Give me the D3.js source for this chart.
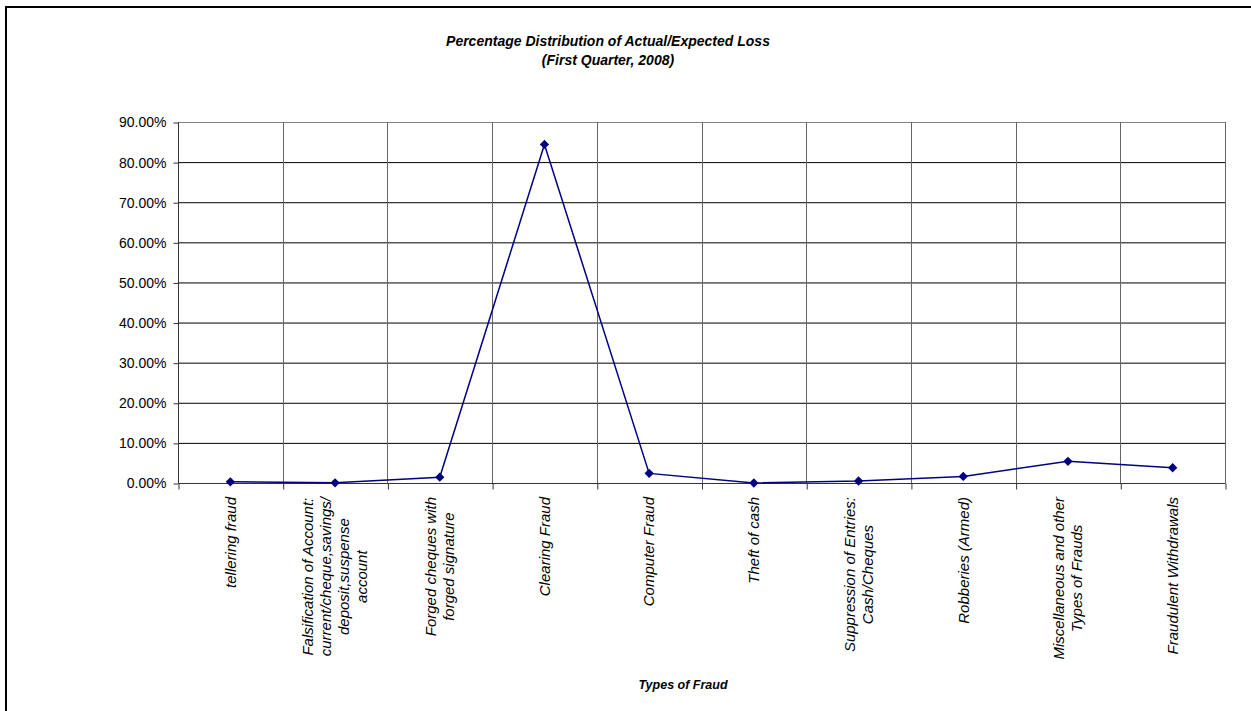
<!DOCTYPE html>
<html>
<head>
<meta charset="utf-8">
<script src="https://cdn.jsdelivr.net/npm/d3@7"></script>
<style>
  body { margin: 0; background: #fff; }
  svg { display: block; font-family: "Liberation Sans", Arial, sans-serif; }
</style>
</head>
<body>
<div id="chart"></div>
<script>
// fraud types (line breaks as in the original chart)
const categories = [
    "tellering fraud",
    "Falsification of Account:\ncurrent/cheque,savings/\ndeposit,suspense\naccount",
    "Forged cheques with\nforged signature",
    "Clearing Fraud",
    "Computer Fraud",
    "Theft of cash",
    "Suppression of Entries:\nCash/Cheques",
    "Robberies (Armed)",
    "Miscellaneous and other\nTypes of Frauds",
    "Fraudulent Withdrawals"
];

// share of actual/expected loss, in percent
const lossShare = [0.3, 0.05, 1.45, 84.4, 2.4, 0.0, 0.5, 1.65, 5.4, 3.8];

const yTicks = [0, 10, 20, 30, 40, 50, 60, 70, 80, 90];

const titleLines = ["Percentage Distribution of Actual/Expected Loss", "(First Quarter, 2008)"];
const xTitle = "Types of Fraud";

let width = 1251,
    height = 711,
    plot = {left: 178, right: 1225, top: 122, bottom: 483};

let svg = d3.select("#chart").append("svg")
    .attr("width", width)
    .attr("height", height);

// chart area border
svg.append("rect")
    .attr("x", 6)
    .attr("y", 7)
    .attr("width", width + 20)
    .attr("height", height + 20)
    .attr("fill", "white")
    .attr("stroke", "black")
    .attr("stroke-width", 2);

let x = d3.scaleBand()
    .domain(d3.range(categories.length))
    .range([plot.left, plot.right])
    .padding(0);

let y = d3.scaleLinear()
    .domain([0, 90])
    .range([plot.bottom, plot.top]);

// horizontal gridlines
svg.append("g")
    .selectAll("line")
    .data(yTicks.slice(1))
    .enter().append("line")
    .attr("x1", plot.left)
    .attr("x2", plot.right)
    .attr("y1", d => y(d) + 0.5)
    .attr("y2", d => y(d) + 0.5)
    .attr("stroke", d => d === 90 ? "#808080" : "black")
    .attr("stroke-width", 1);

// vertical gridlines at category boundaries
svg.append("g")
    .selectAll("line")
    .data(d3.range(1, categories.length + 1))
    .enter().append("line")
    .attr("x1", i => Math.round(x(0) + i * x.bandwidth()) + 0.5)
    .attr("x2", i => Math.round(x(0) + i * x.bandwidth()) + 0.5)
    .attr("y1", plot.top)
    .attr("y2", plot.bottom)
    .attr("stroke", "#666")
    .attr("stroke-width", 1);

// y axis
let yAxis = d3.axisLeft(y)
    .tickValues(yTicks)
    .tickSize(5)
    .tickPadding(7)
    .tickFormat(d => d3.format(".2f")(d) + "%");

let yG = svg.append("g")
    .attr("transform", "translate(" + (plot.left + 0.5) + ",0.5)")
    .call(yAxis);
yG.select(".domain").attr("stroke", "#333").attr("d", "M0," + plot.top + "V" + plot.bottom);
yG.selectAll(".tick line").attr("stroke", "#333");
yG.selectAll(".tick text")
    .attr("font-size", 14)
    .attr("fill", "black")
    .attr("font-family", "Liberation Sans, Arial, sans-serif");

// x axis: ticks at band edges
let edgeScale = d3.scaleLinear().domain([0, categories.length]).range([plot.left, plot.right]);
let xAxis = d3.axisBottom(edgeScale)
    .tickValues(d3.range(0, categories.length + 1))
    .tickSize(6)
    .tickFormat("");

let xG = svg.append("g")
    .attr("transform", "translate(0.5," + (plot.bottom + 0.5) + ")")
    .call(xAxis);
xG.select(".domain").attr("stroke", "#333").attr("d", "M" + plot.left + ",0H" + plot.right);
xG.selectAll(".tick line").attr("stroke", "#333");

// category labels, rotated, lines centred on each other
let labelTop = 497;
let lineH = 18;
categories.forEach((c, i) => {
    let lines = c.split("\n");
    let g = svg.append("g")
        .attr("transform", "translate(" + (x(i) + x.bandwidth() / 2) + "," + labelTop + ")rotate(-90)");
    let t = g.append("text")
        .attr("font-size", 15)
        .attr("font-style", "italic")
        .attr("text-anchor", "middle")
        .attr("fill", "black");
    lines.forEach((l, j) => {
        t.append("tspan")
            .attr("x", 0)
            .attr("y", (j - (lines.length - 1) / 2) * lineH)
            .attr("dy", "0.35em")
            .text(l);
    });
    let maxW = d3.max(t.selectAll("tspan").nodes(), n => n.getComputedTextLength());
    t.selectAll("tspan").attr("x", -maxW / 2);
});

// line and markers
let line = d3.line()
    .x((d, i) => x(i) + x.bandwidth() / 2)
    .y(d => y(d));

svg.append("path")
    .datum(lossShare)
    .attr("d", line)
    .attr("fill", "none")
    .attr("stroke", "#000080")
    .attr("stroke-width", 1.5);

svg.append("g")
    .selectAll("path")
    .data(lossShare)
    .enter().append("path")
    .attr("d", d3.symbol().type(d3.symbolDiamond2).size(55))
    .attr("transform", (d, i) => "translate(" + (x(i) + x.bandwidth() / 2) + "," + y(d) + ")")
    .attr("fill", "#000080");

// titles
let title = svg.append("text")
    .attr("text-anchor", "middle")
    .attr("font-size", 14)
    .attr("font-weight", "bold")
    .attr("font-style", "italic");
titleLines.forEach((l, j) => {
    title.append("tspan")
        .attr("x", 608)
        .attr("y", 46 + j * 19)
        .text(l);
});

svg.append("text")
    .attr("x", 683)
    .attr("y", 689)
    .attr("text-anchor", "middle")
    .attr("font-size", 12.5)
    .attr("font-weight", "bold")
    .attr("font-style", "italic")
    .text(xTitle);
</script>
</body>
</html>
